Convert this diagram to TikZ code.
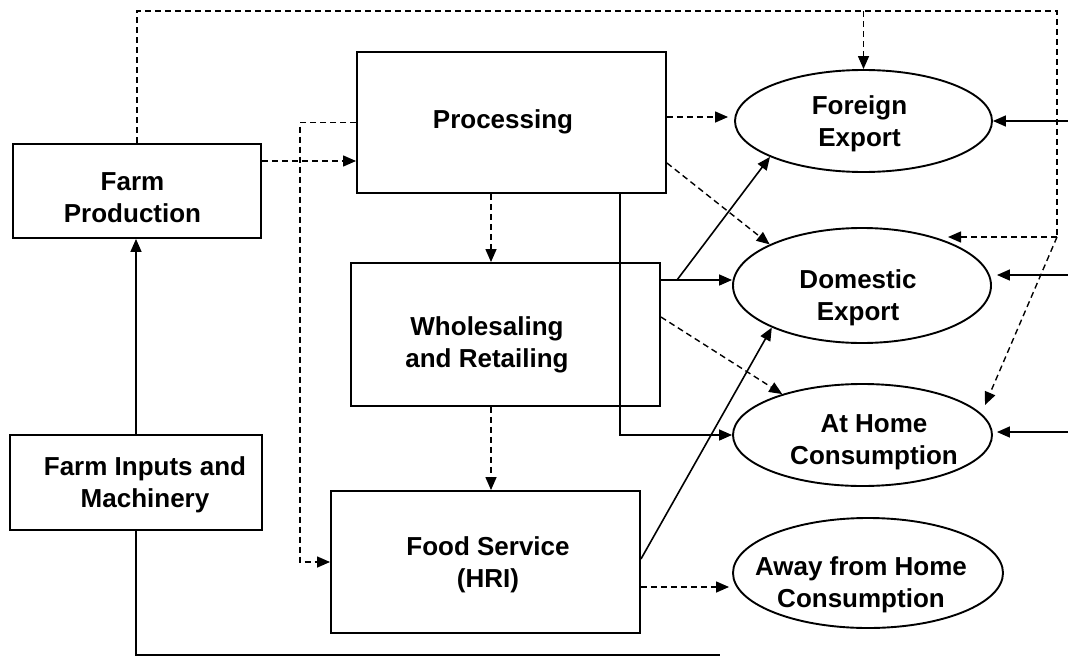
\documentclass[tikz,border=0pt]{standalone}
\usepackage{fontspec}
\setmainfont{Liberation Sans}
\usetikzlibrary{arrows.meta,calc,shapes.geometric}
\begin{document}
\begin{tikzpicture}[x=1pt,y=-1pt,
  box/.style={draw, line width=1.9pt, rectangle, inner sep=0pt},
  oval/.style={draw, line width=1.9pt, ellipse, inner sep=0pt},
  lbl/.style={font=\fontsize{26}{32}\selectfont\bfseries, align=center, inner sep=0pt},
  sline/.style={line width=1.6pt},
  dline/.style={line width=1.4pt, dash pattern=on 6pt off 4pt},
  sarr/.style={sline, -{Triangle[length=13pt,width=11pt]}},
  darr/.style={dline, -{Triangle[length=13pt,width=11pt]}}]
\useasboundingbox (0,0) rectangle (1068,656);
% boxes
\node[box, minimum width=248pt, minimum height=94pt] (fp) at (137,191) {};
\node[box, minimum width=309pt, minimum height=141pt] (proc) at (511.5,122.5) {};
\node[box, minimum width=309pt, minimum height=143pt] (ws) at (505.5,334.5) {};
\node[box, minimum width=309pt, minimum height=142pt] (fs) at (485.5,562) {};
\node[box, minimum width=252pt, minimum height=95pt] (fi) at (136,482.5) {};
% ellipses
\node[oval, minimum width=257pt, minimum height=102pt] (fe) at (863.5,121) {};
\node[oval, minimum width=258pt, minimum height=115pt] (de) at (862,285.5) {};
\node[oval, minimum width=259pt, minimum height=102pt] (ah) at (862.5,435) {};
\node[oval, minimum width=270pt, minimum height=110pt] (aw) at (868,573) {};
% labels
\node[lbl] (fpT) at (132.5,197.5) {Farm\\Production};
\node[lbl] (procT) at (503,122) {Processing};
\node[lbl] (wsT) at (487,345) {Wholesaling\\and Retailing};
\node[lbl] (fiT) at (145,485) {Farm Inputs and\\Machinery};
\node[lbl] (fsT) at (488,565) {Food Service\\(HRI)};
\node[lbl] (feT) at (859.5,124) {Foreign\\Export};
\node[lbl] (deT) at (858,298) {Domestic\\Export};
\node[lbl] (ahT) at (874,442) {At Home\\Consumption};
\node[lbl] (awT) at (861,585) {Away from Home\\Consumption};
% coordinates
\coordinate (loopTR) at (1057,11);
\coordinate (loopBR) at (1057,237);
\coordinate (deTip) at (948,237);
\coordinate (ahTip) at (985,405);
\coordinate (botEnd) at (720,655);
\coordinate (wsBr) at (677,280);
\coordinate (inFE) at (1068,121);
\coordinate (inDE) at (1068,275);
\coordinate (inAH) at (1068,432);
% connectors
\draw[sarr] (fi.north) -- (fi.north |- fp.south);
\draw[sline] (fi.south) |- (botEnd);
\draw[darr] (fp.east |- 0,161) -- (proc.west |- 0,161);
\draw[dline] (fp.north) |- (loopTR) -- (loopBR);
\draw[darr] (loopTR -| fe.north) -- (fe.north);
\draw[darr] (loopBR) -- (deTip);
\draw[darr] (loopBR) -- (ahTip);
\draw[darr] (proc.south -| 491,0) -- (ws.north -| 491,0);
\draw[darr] (ws.south -| 491,0) -- (fs.north -| 491,0);
\draw[darr] (proc.west) -- ++(-56,0) |- (fs.west);
\draw[darr, shorten >=6pt] (proc.east |- 0,117) -- (fe.west |- 0,117);
\draw[darr] (proc.east |- 0,163) -- (de.156);
\draw[sarr] (proc.south -| 620,0) |- (ah.west);
\draw[sarr] (ws.east |- 0,280) -- (de.west |- 0,280);
\draw[sarr] (wsBr) -- (fe.201);
\draw[darr] (ws.east |- 0,317) -- (ah.153);
\draw[sarr] (fs.east |- 0,559) -- (de.205);
\draw[darr, shorten >=3pt] (fs.east |- 0,587) -- (aw.west |- 0,587);
\draw[sarr] (inFE) -- (fe.east);
\draw[sarr, shorten >=5pt] (inDE) -- (de.east |- inDE);
\draw[sarr, shorten >=4pt] (inAH) -- (ah.east |- inAH);
\end{tikzpicture}
\end{document}
